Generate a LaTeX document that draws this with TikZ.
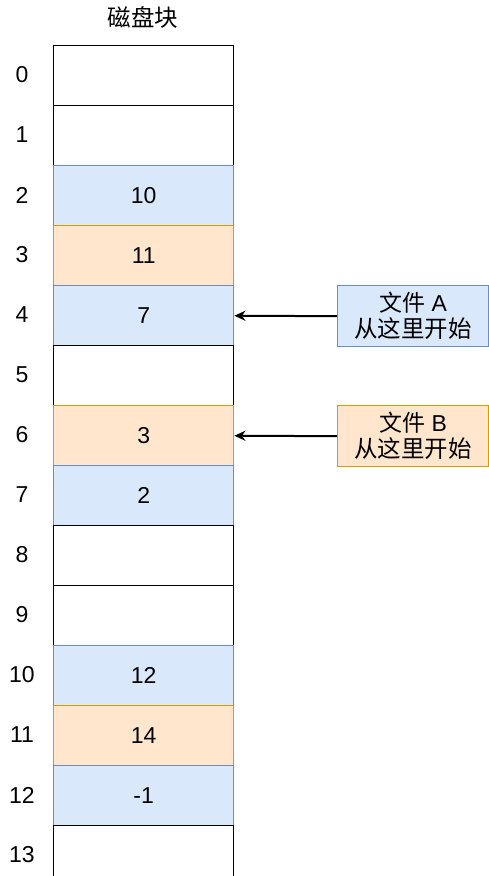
\documentclass[tikz,border=0pt]{standalone}
\usepackage{fontspec}
\setmainfont{Liberation Sans}
\newfontfamily\cjk{Noto Sans CJK SC}
\usetikzlibrary{arrows.meta}
\definecolor{bluefill}{HTML}{DAE8FC}
\definecolor{blueline}{HTML}{6C8EBF}
\definecolor{orangefill}{HTML}{FFE6CC}
\definecolor{orangeline}{HTML}{D79B00}
\tikzset{
  cell/.style={draw=black, line width=1.4pt, minimum width=180pt, minimum height=60pt, inner sep=0pt, font=\fontsize{23}{26}\selectfont, anchor=north west},
  bluecell/.style={cell, draw=blueline, fill=bluefill},
  orangecell/.style={cell, draw=orangeline, fill=orangefill},
  idx/.style={font=\fontsize{23}{26}\selectfont, inner sep=0pt},
  lab/.style={minimum width=151pt, minimum height=61pt, inner sep=0pt, align=center, line width=1.4pt, font=\fontsize{23}{26}\selectfont, anchor=north west},
  arr/.style={-{Stealth[length=11pt,width=10pt]}, line width=2pt}
}
\begin{document}
\begin{tikzpicture}[x=1pt,y=-1pt]
\useasboundingbox (0,0) rectangle (489,876);
\node[font=\cjk\fontsize{23.5}{26}\selectfont] (title) at (143,17) {磁盘块};
% cells
\node[cell] (c0) at (53,45) {};
\node[cell] (c1) at (53,105) {};
\node[bluecell] (c2) at (53,165) {10};
\node[orangecell] (c3) at (53,225) {11};
\node[bluecell] (c4) at (53,285) {7};
\node[cell] (c5) at (53,345) {};
\node[orangecell] (c6) at (53,405) {3};
\node[bluecell] (c7) at (53,465) {2};
\node[cell] (c8) at (53,525) {};
\node[cell] (c9) at (53,585) {};
\node[bluecell] (c10) at (53,645) {12};
\node[orangecell] (c11) at (53,705) {14};
\node[bluecell] (c12) at (53,765) {-1};
\begin{scope}
\clip (0,0) rectangle (489,876);
\node[cell] (c13) at (53,825) {};
\end{scope}
% indices
\foreach \i/\y in {0/75,1/135,2/195,3/255,4/315,5/375,6/435,7/495,8/555,9/615,10/675,11/735,12/795,13/855}
  \node[idx] (n\i) at (22,\y) {\i};
% labels
\node[lab, draw=blueline, fill=bluefill] (la) at (337,285) {{\cjk 文件} A\\{\cjk\fontsize{23.5}{26}\selectfont 从这里开始}};
\node[lab, draw=orangeline, fill=orangefill] (lb) at (337,405) {{\cjk 文件} B\\{\cjk\fontsize{23.5}{26}\selectfont 从这里开始}};
\draw[arr] (la.west) -- (c4.east);
\draw[arr] (lb.west) -- (c6.east);
\end{tikzpicture}
\end{document}
